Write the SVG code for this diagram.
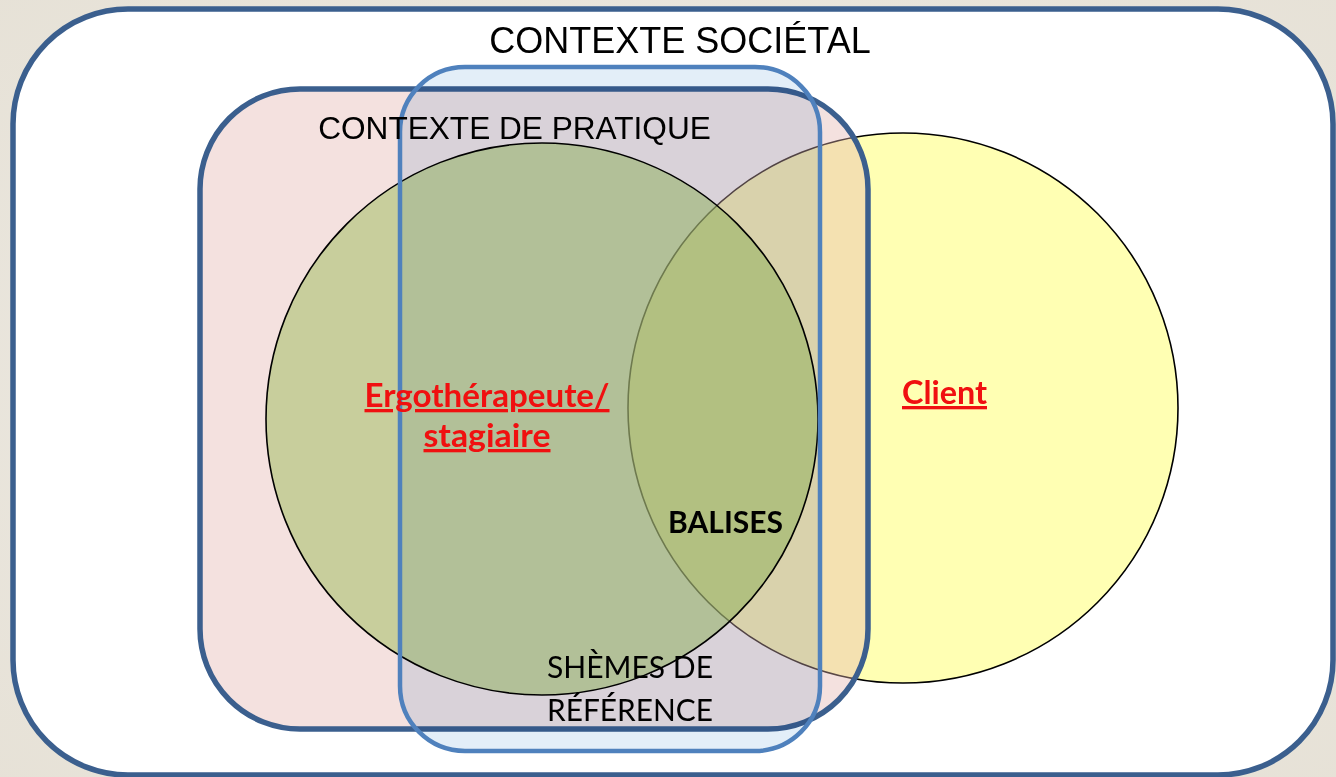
<svg xmlns="http://www.w3.org/2000/svg" width="1336" height="777" viewBox="0 0 1336 777">
<defs>
<style>
.frame{stroke:#3b5f8e;stroke-width:5.5}
.circ{stroke:#000;stroke-width:1.6}
.lbl{font-family:"Liberation Sans",Arial,sans-serif;fill:#000}
.cal{font-family:Lato,"Open Sans",sans-serif}
.red{fill:#f01010;font-weight:bold;text-decoration:underline}
</style>
<radialGradient id="bg" cx="50%" cy="50%" r="75%">
<stop offset="0" stop-color="#efece6"/>
<stop offset="1" stop-color="#e6e1d6"/>
</radialGradient>
</defs>
<rect x="0" y="0" width="1336" height="777" fill="url(#bg)"/>
<g id="contexte-societal">
<rect class="frame" x="13" y="9" width="1320" height="766" rx="115" ry="115" fill="#fff"/>
<text class="lbl" x="680" y="53" font-size="36" text-anchor="middle">CONTEXTE SOCIÉTAL</text>
</g>
<g id="client">
<circle class="circ" cx="903" cy="408" r="275" fill="#ffffb3"/>
</g>
<g id="contexte-pratique">
<rect class="frame" x="200" y="89" width="668" height="640" rx="100" ry="100" fill="#e4b4b0" fill-opacity="0.4"/>
</g>
<g id="ergotherapeute">
<circle class="circ" cx="542" cy="419" r="276" fill="#9bbb59" fill-opacity="0.5"/>
</g>
<g id="shemes">
<rect x="400" y="67" width="420" height="684" rx="65" ry="65" fill="#e3eef8" style="mix-blend-mode:multiply"/>
<rect x="400" y="67" width="420" height="684" rx="65" ry="65" fill="none" stroke="#4f81bd" stroke-width="4.5"/>
</g>
<g id="labels">
<text class="lbl" x="514.5" y="139" font-size="31.6" text-anchor="middle">CONTEXTE DE PRATIQUE</text>
<text class="cal red" x="487" y="407" font-size="33" text-anchor="middle" textLength="245" lengthAdjust="spacingAndGlyphs">Ergothérapeute/</text>
<text class="cal red" x="487" y="447" font-size="33" text-anchor="middle" textLength="127" lengthAdjust="spacingAndGlyphs">stagiaire</text>
<text class="cal red" x="944.5" y="404" font-size="33" text-anchor="middle" textLength="85" lengthAdjust="spacingAndGlyphs">Client</text>
<text class="cal lbl" x="725.5" y="533" font-size="31" font-weight="bold" text-anchor="middle" textLength="115" lengthAdjust="spacingAndGlyphs">BALISES</text>
<text class="cal lbl" x="547" y="678" font-size="31" textLength="166" lengthAdjust="spacingAndGlyphs">SHÈMES DE</text>
<text class="cal lbl" x="547" y="721" font-size="31" textLength="166" lengthAdjust="spacingAndGlyphs">RÉFÉRENCE</text>
</g>
<g id="connectors"/>
</svg>
